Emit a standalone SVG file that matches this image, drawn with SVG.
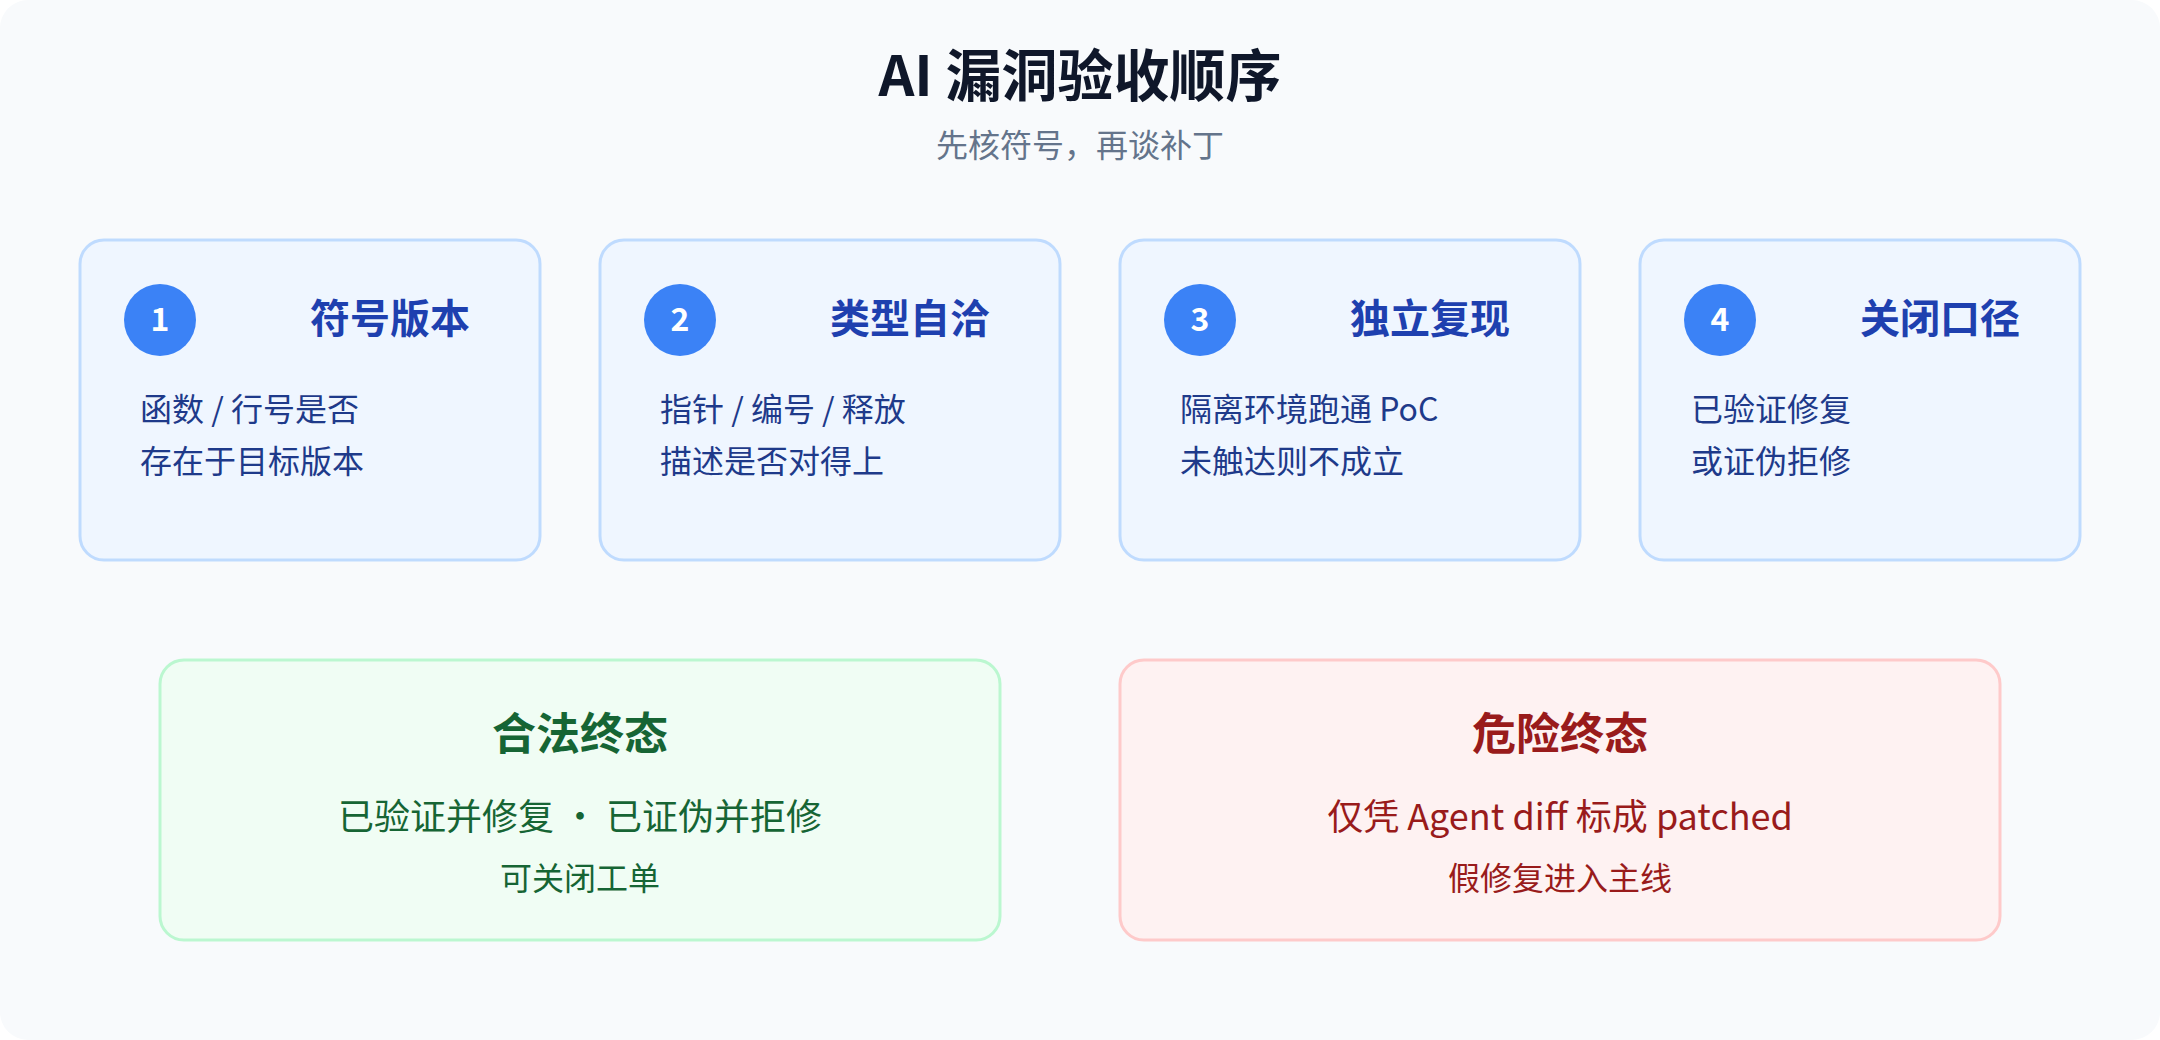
<svg xmlns="http://www.w3.org/2000/svg" width="2160" height="1040" viewBox="0 0 2160 1040">
  <defs>
    <style>
      text { font-family: "Noto Sans CJK SC", "Noto Sans", sans-serif; }
      .title { font-size: 56px; font-weight: 700; fill: #0f172a; text-anchor: middle; }
      .subtitle { font-size: 32px; fill: #64748b; text-anchor: middle; }
      .step { fill: #eff6ff; stroke: #bfdbfe; stroke-width: 3; }
      .badge { fill: #3b82f6; }
      .num { font-size: 32px; font-weight: 700; fill: #ffffff; text-anchor: middle; }
      .stitle { font-size: 40px; font-weight: 700; fill: #1e40af; text-anchor: middle; }
      .sbody { font-size: 32px; fill: #1e3a8a; }
      .ok { fill: #f0fdf4; stroke: #bbf7d0; stroke-width: 3; }
      .bad { fill: #fef2f2; stroke: #fecaca; stroke-width: 3; }
      .etitle { font-size: 44px; font-weight: 700; text-anchor: middle; }
      .eline { font-size: 36px; text-anchor: middle; }
      .enote { font-size: 32px; text-anchor: middle; }
      .green { fill: #166534; }
      .red { fill: #991b1b; }
    </style>
  </defs>

  <rect x="0" y="0" width="2160" height="1040" rx="28" fill="#f8fafc"/>

  <g id="header">
    <text class="title" x="1080" y="96">AI 漏洞验收顺序</text>
    <text class="subtitle" x="1080" y="157">先核符号，再谈补丁</text>
  </g>

  <g id="step1">
    <rect class="step" x="80" y="240" width="460" height="320" rx="24"/>
    <circle class="badge" cx="160" cy="320" r="36"/>
    <text class="num" x="160" y="331">1</text>
    <text class="stitle" x="390" y="333">符号版本</text>
    <text class="sbody" x="140" y="421">函数 / 行号是否</text>
    <text class="sbody" x="140" y="473">存在于目标版本</text>
  </g>

  <g id="step2">
    <rect class="step" x="600" y="240" width="460" height="320" rx="24"/>
    <circle class="badge" cx="680" cy="320" r="36"/>
    <text class="num" x="680" y="331">2</text>
    <text class="stitle" x="910" y="333">类型自洽</text>
    <text class="sbody" x="660" y="421">指针 / 编号 / 释放</text>
    <text class="sbody" x="660" y="473">描述是否对得上</text>
  </g>

  <g id="step3">
    <rect class="step" x="1120" y="240" width="460" height="320" rx="24"/>
    <circle class="badge" cx="1200" cy="320" r="36"/>
    <text class="num" x="1200" y="331">3</text>
    <text class="stitle" x="1430" y="333">独立复现</text>
    <text class="sbody" x="1180" y="421">隔离环境跑通 PoC</text>
    <text class="sbody" x="1180" y="473">未触达则不成立</text>
  </g>

  <g id="step4">
    <rect class="step" x="1640" y="240" width="440" height="320" rx="24"/>
    <circle class="badge" cx="1720" cy="320" r="36"/>
    <text class="num" x="1720" y="331">4</text>
    <text class="stitle" x="1940" y="333">关闭口径</text>
    <text class="sbody" x="1691" y="421">已验证修复</text>
    <text class="sbody" x="1691" y="473">或证伪拒修</text>
  </g>

  <g id="legal-end">
    <rect class="ok" x="160" y="660" width="840" height="280" rx="24"/>
    <text class="etitle green" x="580" y="750">合法终态</text>
    <text class="eline green" x="580" y="830">已验证并修复 · 已证伪并拒修</text>
    <text class="enote green" x="580" y="890">可关闭工单</text>
  </g>

  <g id="danger-end">
    <rect class="bad" x="1120" y="660" width="880" height="280" rx="24"/>
    <text class="etitle red" x="1560" y="750">危险终态</text>
    <text class="eline red" x="1560" y="830">仅凭 Agent diff 标成 patched</text>
    <text class="enote red" x="1560" y="890">假修复进入主线</text>
  </g>

  <g id="connectors"></g>
</svg>
